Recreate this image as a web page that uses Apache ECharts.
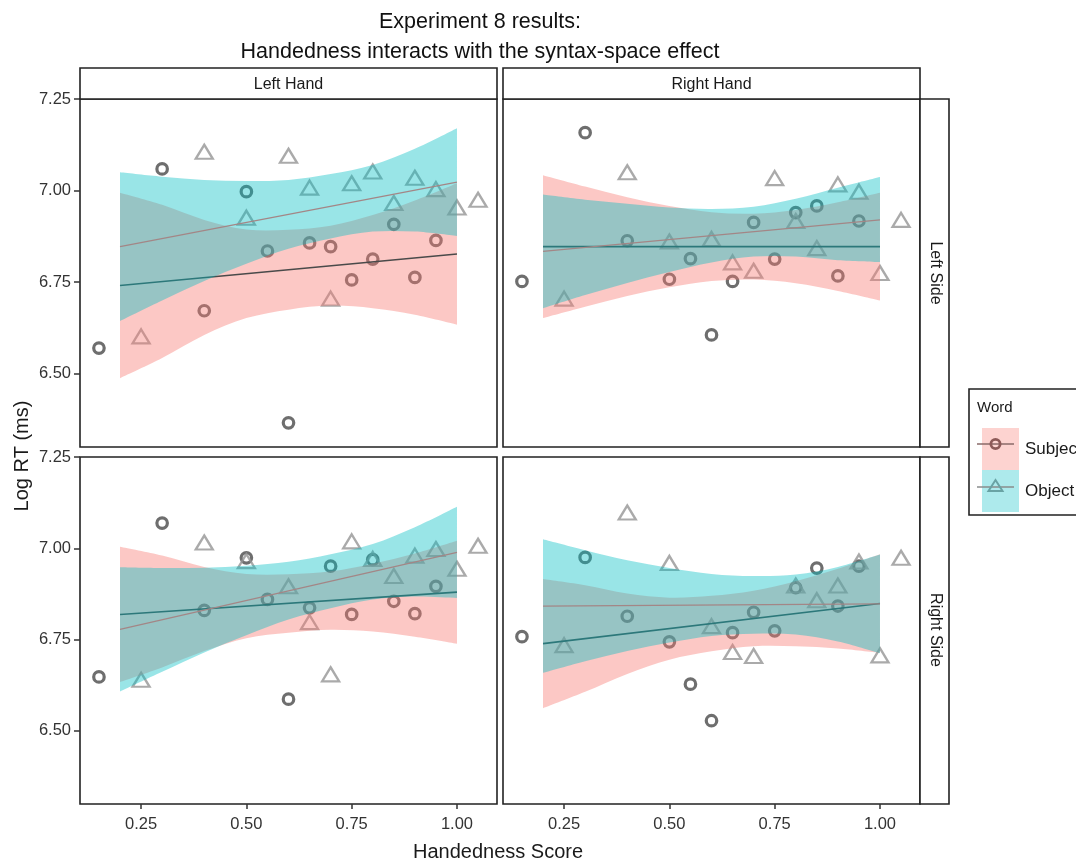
<!DOCTYPE html>
<html><head><meta charset="utf-8">
<script src="https://cdn.jsdelivr.net/npm/echarts@6/dist/echarts.min.js"></script>
<style>html,body{margin:0;padding:0;background:#fff}#c{width:1076px;height:865px}</style>
</head><body><div id="c"></div>
<script>
// ---------- data ----------
const colNames = ['Left Hand', 'Right Hand'];
const rowNames = ['Left Side', 'Right Side'];
const wordNames = ['Subject', 'Object'];
const xTicks = [0.25, 0.50, 0.75, 1.00];
const yTicks = [6.50, 6.75, 7.00, 7.25];
const xRange = [0.105, 1.095];
const yRange = [6.30, 7.25];

const subjX = [0.15, 0.30, 0.40, 0.50, 0.55, 0.60, 0.65, 0.70, 0.75, 0.80, 0.85, 0.90, 0.95];
const objX = [0.25, 0.40, 0.50, 0.60, 0.65, 0.70, 0.75, 0.80, 0.85, 0.90, 0.95, 1.00, 1.05];
const objXBR = [0.25, 0.40, 0.50, 0.60, 0.65, 0.70, 0.80, 0.85, 0.90, 0.95, 1.00, 1.05];

// Left Hand / Left Side
const tlSubjY = [6.570, 7.059, 6.672, 6.997, 6.835, 6.366, 6.857, 6.847, 6.756, 6.813, 6.908, 6.763, 6.864];
const tlObjY = [6.602, 7.106, 6.926, 7.095, 7.008, 6.705, 7.020, 7.052, 6.966, 7.035, 7.004, 6.954, 6.975];
// Right Hand / Left Side
const trSubjY = [6.752, 7.158, 6.863, 6.758, 6.814, 6.606, 6.752, 6.913, 6.813, 6.940, 6.958, 6.767, 6.917];
const trObjY = [6.705, 7.050, 6.861, 6.868, 6.804, 6.781, 7.034, 6.917, 6.843, 7.017, 6.997, 6.775, 6.920];
// Left Hand / Right Side
const blSubjY = [6.648, 7.069, 6.830, 6.974, 6.860, 6.587, 6.837, 6.951, 6.819, 6.969, 6.855, 6.821, 6.896];
const blObjY = [6.640, 7.016, 6.965, 6.896, 6.798, 6.655, 7.019, 6.971, 6.924, 6.980, 6.998, 6.944, 7.007];
// Right Hand / Right Side
const brSubjY = [6.758, 6.975, 6.814, 6.744, 6.628, 6.528, 6.769, 6.825, 6.774, 6.892, 6.946, 6.842, 6.951];
const brObjY = [6.735, 7.098, 6.960, 6.787, 6.716, 6.705, 6.898, 6.858, 6.898, 6.964, 6.707, 6.974];

// fitted lines (values at x = 0.2 and x = 1.0)
const fitEndX = [0.2, 1.0];
const tlSubjFit = [6.741, 6.827], tlObjFit = [6.847, 7.023];
const trSubjFit = [6.847, 6.847], trObjFit = [6.834, 6.920];
const blSubjFit = [6.819, 6.880], blObjFit = [6.778, 6.989];
const brSubjFit = [6.739, 6.849], brObjFit = [6.842, 6.848];

// confidence bands
const bandX = [0.2, 0.3, 0.4, 0.5, 0.6, 0.7, 0.8, 0.9, 1.0];
const tlSubjLo = [6.488, 6.543, 6.606, 6.652, 6.675, 6.686, 6.679, 6.661, 6.634];
const tlSubjHi = [6.994, 6.961, 6.920, 6.894, 6.893, 6.904, 6.933, 6.973, 7.020];
const tlObjLo = [6.644, 6.700, 6.753, 6.800, 6.841, 6.869, 6.888, 6.888, 6.876];
const tlObjHi = [7.050, 7.038, 7.029, 7.026, 7.029, 7.045, 7.070, 7.114, 7.170];
const trSubjLo = [6.652, 6.683, 6.712, 6.736, 6.753, 6.757, 6.747, 6.726, 6.700];
const trSubjHi = [7.042, 7.011, 6.982, 6.958, 6.941, 6.937, 6.947, 6.968, 6.994];
const trObjLo = [6.679, 6.715, 6.748, 6.778, 6.804, 6.820, 6.820, 6.810, 6.805];
const trObjHi = [6.989, 6.975, 6.964, 6.954, 6.950, 6.956, 6.978, 7.008, 7.037];
const blSubjLo = [6.634, 6.674, 6.719, 6.754, 6.769, 6.777, 6.772, 6.758, 6.739];
const blSubjHi = [7.004, 6.980, 6.949, 6.930, 6.929, 6.937, 6.958, 6.986, 7.021];
const blObjLo = [6.608, 6.662, 6.715, 6.762, 6.805, 6.836, 6.860, 6.868, 6.864];
const blObjHi = [6.948, 6.946, 6.947, 6.952, 6.963, 6.984, 7.012, 7.058, 7.114];
const brSubjLo = [6.562, 6.607, 6.656, 6.695, 6.718, 6.732, 6.732, 6.726, 6.714];
const brSubjHi = [6.916, 6.899, 6.876, 6.865, 6.870, 6.884, 6.910, 6.944, 6.984];
const brObjLo = [6.659, 6.691, 6.719, 6.742, 6.760, 6.766, 6.764, 6.745, 6.713];
const brObjHi = [7.025, 6.995, 6.967, 6.946, 6.930, 6.924, 6.928, 6.949, 6.983];

// ---------- build ----------
const panels = [
  {sx: subjX, sy: tlSubjY, ox: objX, oy: tlObjY, sf: tlSubjFit, of: tlObjFit, sLo: tlSubjLo, sHi: tlSubjHi, oLo: tlObjLo, oHi: tlObjHi},
  {sx: subjX, sy: trSubjY, ox: objX, oy: trObjY, sf: trSubjFit, of: trObjFit, sLo: trSubjLo, sHi: trSubjHi, oLo: trObjLo, oHi: trObjHi},
  {sx: subjX, sy: blSubjY, ox: objX, oy: blObjY, sf: blSubjFit, of: blObjFit, sLo: blSubjLo, sHi: blSubjHi, oLo: blObjLo, oHi: blObjHi},
  {sx: subjX, sy: brSubjY, ox: objXBR, oy: brObjY, sf: brSubjFit, of: brObjFit, sLo: brSubjLo, sHi: brSubjHi, oLo: brObjLo, oHi: brObjHi}
];
const gridPos = [
  {left: 80, top: 99, width: 417, height: 348},
  {left: 503, top: 99, width: 417, height: 348},
  {left: 80, top: 457, width: 417, height: 347},
  {left: 503, top: 457, width: 417, height: 347}
];
const FONT = 'Liberation Sans, Arial, sans-serif';
const PINK = 'rgba(248,118,109,0.4)';
const CYAN = 'rgba(0,191,196,0.4)';

function curveThrough(p) {
  let s = '';
  for (let i = 0; i < p.length - 1; i++) {
    const p0 = p[i - 1] || p[i], p1 = p[i], p2 = p[i + 1], p3 = p[i + 2] || p[i + 1];
    const c1 = [p1[0] + (p2[0] - p0[0]) / 6, p1[1] + (p2[1] - p0[1]) / 6];
    const c2 = [p2[0] - (p3[0] - p1[0]) / 6, p2[1] - (p3[1] - p1[1]) / 6];
    s += ' C' + c1[0] + ' ' + c1[1] + ' ' + c2[0] + ' ' + c2[1] + ' ' + p2[0] + ' ' + p2[1];
  }
  return s;
}
function bandSeries(name, idx, lo, hi, color, z) {
  return {
    name: name, type: 'custom', xAxisIndex: idx, yAxisIndex: idx, z: z, silent: true,
    data: bandX.map((x, i) => [x, lo[i], hi[i]]),
    encode: {x: 0, y: [1, 2]},
    renderItem: function (params, api) {
      if (params.dataIndex !== 0) return null;
      const up = bandX.map((x, i) => api.coord([x, hi[i]]));
      const dn = bandX.map((x, i) => api.coord([x, lo[i]])).reverse();
      const d = 'M' + up[0][0] + ' ' + up[0][1] + curveThrough(up) +
        ' L' + dn[0][0] + ' ' + dn[0][1] + curveThrough(dn) + ' Z';
      return {type: 'path', shape: {pathData: d}, style: {fill: color, stroke: null}};
    }
  };
}

const grid = [], xAxis = [], yAxis = [], series = [];
panels.forEach((p, i) => {
  const g = gridPos[i];
  grid.push(Object.assign({show: true, borderColor: '#222', borderWidth: 1.6, backgroundColor: '#fff'}, g));
  const bottomRow = i >= 2, leftCol = (i % 2) === 0;
  xAxis.push({
    type: 'value', gridIndex: i, min: xRange[0], max: xRange[1],
    splitLine: {show: false}, axisLine: {show: false},
    axisTick: {show: bottomRow, customValues: xTicks, length: 5, lineStyle: {color: '#333', width: 1.5}},
    axisLabel: {show: bottomRow, customValues: xTicks, margin: 12, fontSize: 16.5, fontFamily: FONT, color: '#333',
      formatter: v => v.toFixed(2)}
  });
  yAxis.push({
    type: 'value', gridIndex: i, min: yRange[0], max: yRange[1],
    splitLine: {show: false}, axisLine: {show: false},
    axisTick: {show: leftCol, customValues: yTicks, length: 6, lineStyle: {color: '#333', width: 1.5}},
    axisLabel: {show: leftCol, customValues: yTicks, margin: 9, fontSize: 16.5, fontFamily: FONT, color: '#333',
      formatter: v => v.toFixed(2)}
  });
  series.push({
    name: 'Subject', type: 'scatter', xAxisIndex: i, yAxisIndex: i, z: 1, silent: true,
    symbol: 'circle', symbolSize: 10.5,
    itemStyle: {color: 'rgba(0,0,0,0)', borderColor: '#4a4a4a', borderWidth: 3.2},
    data: p.sx.map((x, k) => [x, p.sy[k]])
  });
  series.push({
    name: 'Object', type: 'scatter', xAxisIndex: i, yAxisIndex: i, z: 1, silent: true,
    symbol: 'triangle', symbolSize: [17, 14],
    itemStyle: {color: 'rgba(0,0,0,0)', borderColor: '#959595', borderWidth: 2.3},
    data: p.ox.map((x, k) => [x, p.oy[k]])
  });
  series.push(bandSeries('Subject', i, p.sLo, p.sHi, PINK, 2));
  series.push({
    name: 'Subject', type: 'line', xAxisIndex: i, yAxisIndex: i, z: 3, silent: true,
    showSymbol: false, lineStyle: {color: '#4a4a4a', width: 1.6},
    data: fitEndX.map((x, k) => [x, p.sf[k]])
  });
  series.push(bandSeries('Object', i, p.oLo, p.oHi, CYAN, 4));
  series.push({
    name: 'Object', type: 'line', xAxisIndex: i, yAxisIndex: i, z: 5, silent: true,
    showSymbol: false, lineStyle: {color: '#a38686', width: 1.3},
    data: fitEndX.map((x, k) => [x, p.of[k]])
  });
});

const stripStyle = {fill: '#fff', stroke: '#222', lineWidth: 1.6};
const stripText = {fontSize: 16, fontFamily: FONT, fill: '#1a1a1a', align: 'center', verticalAlign: 'middle'};
const graphic = [
  {type: 'rect', shape: {x: 80, y: 68, width: 417, height: 31}, style: stripStyle, z: 50},
  {type: 'text', x: 288.5, y: 85, style: Object.assign({text: colNames[0]}, stripText), z: 51},
  {type: 'rect', shape: {x: 503, y: 68, width: 417, height: 31}, style: stripStyle, z: 50},
  {type: 'text', x: 711.5, y: 85, style: Object.assign({text: colNames[1]}, stripText), z: 51},
  {type: 'rect', shape: {x: 920, y: 99, width: 29, height: 348}, style: stripStyle, z: 50},
  {type: 'text', x: 935, y: 273, rotation: -Math.PI / 2, style: Object.assign({text: rowNames[0]}, stripText), z: 51},
  {type: 'rect', shape: {x: 920, y: 457, width: 29, height: 347}, style: stripStyle, z: 50},
  {type: 'text', x: 935, y: 630, rotation: -Math.PI / 2, style: Object.assign({text: rowNames[1]}, stripText), z: 51},
  // axis titles
  {type: 'text', x: 22, y: 456, rotation: Math.PI / 2,
    style: {text: 'Log RT (ms)', fontSize: 20, fontFamily: FONT, fill: '#1a1a1a', align: 'center', verticalAlign: 'middle'}},
  {type: 'text', x: 498, y: 852,
    style: {text: 'Handedness Score', fontSize: 20, fontFamily: FONT, fill: '#1a1a1a', align: 'center', verticalAlign: 'middle'}},
  // legend frame and title
  {type: 'rect', shape: {x: 969, y: 389, width: 130, height: 126}, style: {fill: '#fff', stroke: '#222', lineWidth: 1.6}, z: 1},
  {type: 'text', x: 977, y: 408, style: {text: 'Word', fontSize: 15, fontFamily: FONT, fill: '#1a1a1a', verticalAlign: 'middle'}, z: 60},
  // legend key glyphs
  {type: 'line', shape: {x1: 977, y1: 444, x2: 1014, y2: 444}, style: {stroke: '#8a6a69', lineWidth: 1.3}, z: 60},
  {type: 'circle', shape: {cx: 995.5, cy: 444, r: 4.6}, style: {fill: 'none', stroke: '#8d5a58', lineWidth: 2.8}, z: 61},
  {type: 'line', shape: {x1: 977, y1: 487, x2: 1014, y2: 487}, style: {stroke: '#8a8c8c', lineWidth: 1.3}, z: 60},
  {type: 'polygon', shape: {points: [[995.5, 480], [1002.5, 491], [988.5, 491]]}, style: {fill: 'none', stroke: '#69a3a4', lineWidth: 2}, z: 61}
];

const chart = echarts.init(document.getElementById('c'), null, {renderer: 'canvas'});
chart.setOption({
  animation: false,
  backgroundColor: '#fff',
  title: {
    text: 'Experiment 8 results:\nHandedness interacts with the syntax-space effect',
    left: 480, top: 7, textAlign: 'center', padding: 0,
    textStyle: {fontSize: 21.5, fontWeight: 'normal', color: '#111', fontFamily: FONT, lineHeight: 30}
  },
  legend: {
    orient: 'vertical', left: 977, top: 423, itemGap: 0, itemWidth: 37, itemHeight: 42,
    selectedMode: false, z: 20,
    textStyle: {fontSize: 17, fontFamily: FONT, color: '#1a1a1a', padding: [0, 0, 0, 1]},
    data: [
      {name: wordNames[0], icon: 'rect', itemStyle: {color: PINK, borderWidth: 0}},
      {name: wordNames[1], icon: 'rect', itemStyle: {color: CYAN, borderWidth: 0}}
    ]
  },
  grid: grid, xAxis: xAxis, yAxis: yAxis, series: series, graphic: graphic
});
</script></body></html>
